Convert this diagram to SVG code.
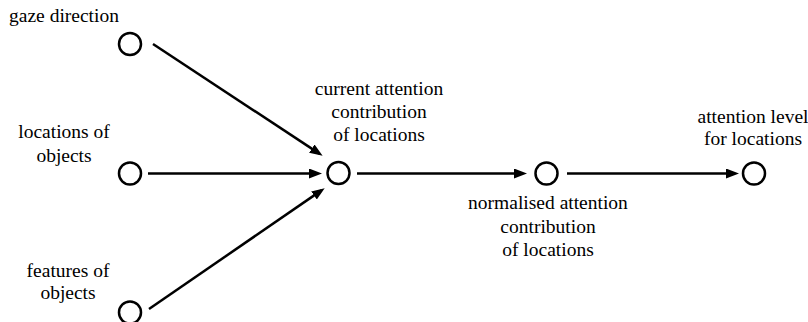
<svg xmlns="http://www.w3.org/2000/svg" width="808" height="322" viewBox="0 0 808 322">
<style>
  .node { fill: #fff; stroke: #000; stroke-width: 2.5; }
  .lbl { font-family: "Liberation Serif", "Times New Roman", serif; font-size: 19.5px; fill: #000; text-anchor: middle; }
  .edge { stroke: #000; stroke-width: 2.5; fill: none; marker-end: url(#arrow); }
</style>
<defs>
  <marker id="arrow" markerUnits="userSpaceOnUse" markerWidth="13" markerHeight="11" refX="9" refY="5" orient="auto">
    <path d="M0,0 L13,5 L0,10 z" fill="#000"/>
  </marker>
</defs>
<rect width="808" height="322" fill="#fff"/>
<g id="connectors">
  <line class="edge" x1="153" y1="44" x2="319.3" y2="153.6"/>
  <line class="edge" x1="148" y1="173.5" x2="318" y2="173.5"/>
  <line class="edge" x1="149" y1="309" x2="321.4" y2="190.4"/>
  <line class="edge" x1="357" y1="173.5" x2="523" y2="173.5"/>
  <line class="edge" x1="567" y1="173.5" x2="735" y2="173.5"/>
</g>
<g id="gaze">
  <circle class="node" cx="130" cy="44" r="11"/>
  <text class="lbl" x="64" y="22">gaze direction</text>
</g>
<g id="locations">
  <circle class="node" cx="130" cy="173.5" r="11"/>
  <text class="lbl" x="64" y="138">locations of</text>
  <text class="lbl" x="64" y="162">objects</text>
</g>
<g id="features">
  <circle class="node" cx="130" cy="312.5" r="11"/>
  <text class="lbl" x="68" y="277">features of</text>
  <text class="lbl" x="68" y="299">objects</text>
</g>
<g id="current">
  <circle class="node" cx="338.5" cy="173" r="11"/>
  <text class="lbl" x="379" y="95">current attention</text>
  <text class="lbl" x="379" y="118">contribution</text>
  <text class="lbl" x="379" y="141">of locations</text>
</g>
<g id="normalised">
  <circle class="node" cx="546.5" cy="173.5" r="11"/>
  <text class="lbl" x="548" y="209">normalised attention</text>
  <text class="lbl" x="548" y="233">contribution</text>
  <text class="lbl" x="548" y="256">of locations</text>
</g>
<g id="level">
  <circle class="node" cx="754" cy="173.5" r="11"/>
  <text class="lbl" x="753" y="123">attention level</text>
  <text class="lbl" x="753" y="145">for locations</text>
</g>
</svg>
